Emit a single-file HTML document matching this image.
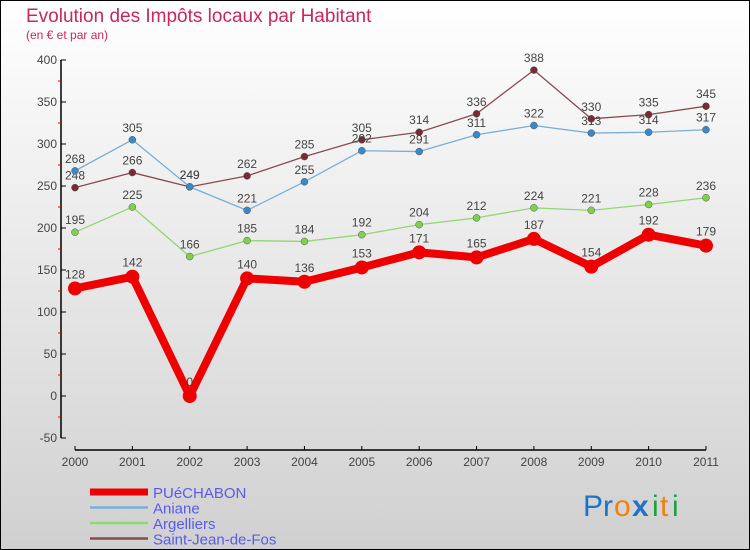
<!DOCTYPE html>
<html><head><meta charset="utf-8"><style>
html,body{margin:0;padding:0;}
body{width:750px;height:550px;overflow:hidden;font-family:"Liberation Sans",sans-serif;}
</style></head><body>
<svg id="chart" width="750" height="550" xmlns="http://www.w3.org/2000/svg" style="display:block">
<defs><linearGradient id="bg" x1="0" y1="0" x2="0" y2="1"><stop offset="0" stop-color="#ffffff"/><stop offset="1" stop-color="#d0d0d0"/></linearGradient></defs>
<rect x="0.5" y="0.5" width="749" height="549" fill="url(#bg)" stroke="#000"/>
<text x="26" y="22" font-size="19" fill="#c8285a">Evolution des Impôts locaux par Habitant</text>
<text x="26" y="39" font-size="12" fill="#c8285a">(en € et par an)</text>
<g id="axes"></g>
<g id="series"></g>
<g id="legend"></g>
<g font-size="30" font-family="Liberation Sans,sans-serif">
<text x="583" y="516" fill="#1e73c8">P</text><text x="603" y="516" fill="#1e73c8">r</text><text x="614" y="516" fill="#f08010">o</text><text x="632" y="516" fill="#1e73c8" font-weight="bold">x</text><text x="652" y="516" fill="#20a040">i</text><text x="660" y="516" fill="#f08010">t</text><text x="672" y="516" fill="#20a040">i</text>
</g>
</svg>
<script>
const years=[2000,2001,2002,2003,2004,2005,2006,2007,2008,2009,2010,2011];
const puechabon=[128,142,0,140,136,153,171,165,187,154,192,179];
const aniane=[268,305,249,221,255,292,291,311,322,313,314,317];
const argelliers=[195,225,166,185,184,192,204,212,224,221,228,236];
const saintJean=[248,266,249,262,285,305,314,336,388,330,335,345];
const yTicks=[-50,0,50,100,150,200,250,300,350,400];
const NS="http://www.w3.org/2000/svg";
const X=i=>75+i*(706-75)/(years.length-1);
const Y=v=>396-v*0.84;
function el(t,a,p){const e=document.createElementNS(NS,t);for(const k in a)e.setAttribute(k,a[k]);p.appendChild(e);return e;}
const ax=document.getElementById('axes');
const ya=el('line',{x1:61,y1:Y(400),x2:61,y2:Y(-50),stroke:'#000','stroke-width':1.5},ax);


yTicks.forEach(v=>{
 el('line',{x1:61,y1:Y(v),x2:66,y2:Y(v),stroke:'#000'},ax);
 if(v<400) el('line',{x1:58,y1:Y(v+25),x2:61,y2:Y(v+25),stroke:'#e00'},ax);
 const t=el('text',{x:57,y:Y(v)+4,'font-size':12,fill:'#444','text-anchor':'end'},ax);t.textContent=v;
 
 
});
const xa=el('line',{x1:X(0),y1:450,x2:X(years.length-1),y2:450,stroke:'#000','stroke-width':1.5},ax);


years.forEach((y,i)=>{
 el('line',{x1:X(i),y1:446,x2:X(i),y2:450,stroke:'#000'},ax);
 const t=el('text',{x:X(i),y:466,'font-size':12,fill:'#444','text-anchor':'middle'},ax);t.textContent=y;
 
 
});
const sg=document.getElementById('series');
const series=[
 {name:'saint-jean-de-fos',label:'Saint-Jean-de-Fos',d:saintJean,c:'#7a2a35',lc:'#8a4a50',w:1.3,r:3.5},
 {name:'argelliers',label:'Argelliers',d:argelliers,c:'#80d050',lc:'#90d870',w:1.3,r:3.5},
 {name:'aniane',label:'Aniane',d:aniane,c:'#3a88c8',lc:'#78b0d8',w:1.3,r:3.5},
 {name:'puechabon',label:'PUéCHABON',d:puechabon,c:'#ee0000',lc:'#ee0000',w:8,r:7}
];
series.forEach(s=>{
 const g=el('g',{},sg);
 
 
 const p=el('polyline',{points:s.d.map((v,i)=>X(i)+','+Y(v)).join(' '),fill:'none',stroke:s.lc,'stroke-width':s.w,'stroke-linejoin':'round'},g);
 
 
 s.d.forEach((v,i)=>{
  const c=el('circle',{cx:X(i),cy:Y(v),r:s.r,fill:s.c,stroke:s.w>2?'none':'#555','stroke-width':0.5},g);
  
  
  const t=el('text',{x:X(i),y:Y(v)-(s.w>2?10:8),'font-size':12,fill:'#444','text-anchor':'middle'},g);t.textContent=v;
  
  
 });
});
const lg=document.getElementById('legend');
[series[3],series[2],series[1],series[0]].forEach((s,k)=>{
 const y=492+k*15.5;
 const g=el('g',{},lg);
 
 
 el('line',{x1:90,y1:y,x2:148,y2:y,stroke:s.lc,'stroke-width':s.w>2?7:2.5},g);
 const t=el('text',{x:153,y:y+6,'font-size':15,fill:'#5a5aee'},g);t.textContent=s.label;
});
</script>
</body></html>
